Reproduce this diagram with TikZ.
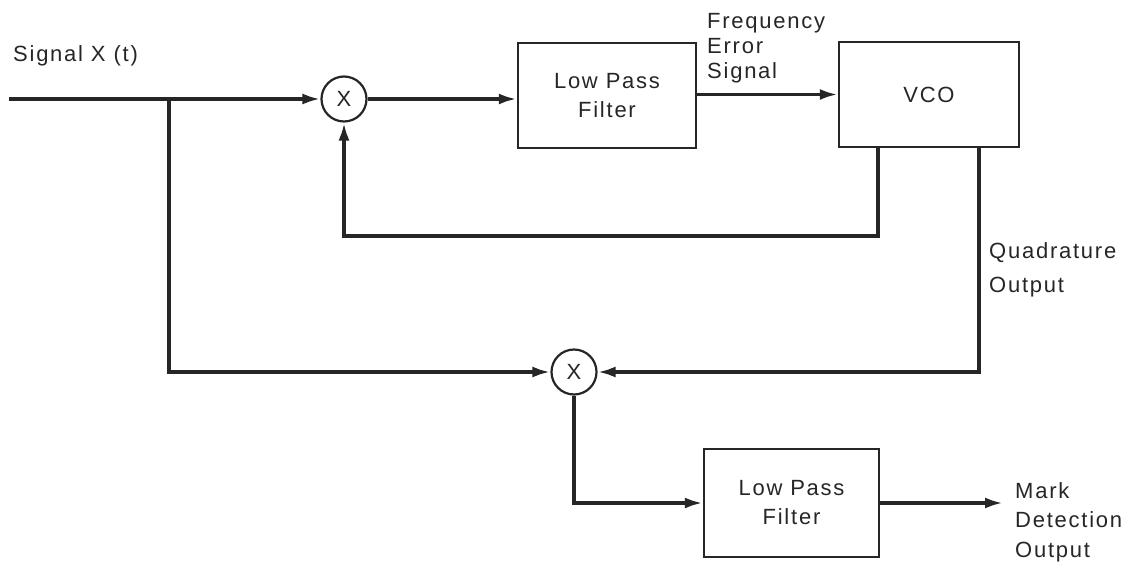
\documentclass[tikz,border=0pt]{standalone}
\usepackage{fontspec}
\setmainfont[LetterSpace=8]{Liberation Sans}
\usetikzlibrary{arrows.meta}
\begin{document}
\begin{tikzpicture}[x=1pt,y=-1pt,
  every node/.style={font=\fontsize{22}{29}\selectfont, text=black!85},
  wire/.style={line width=3.4pt, draw=black!85},
  arr/.style={wire,-{Latex[length=18pt,width=11pt]}},
  blk/.style={draw=black!85,line width=2.4pt,rectangle,inner sep=0pt,align=center},
  mix/.style={draw=black!85,circle,line width=2.2pt,minimum size=45pt,inner sep=0pt},
  lbl/.style={align=left,anchor=west,inner sep=0pt}]
\fill[white] (0,0) rectangle (1140,565);
\useasboundingbox (0,0) rectangle (1140,565);

% nodes
\node[lbl] (sig) at (13,56) {Signal X (t)};
\coordinate (in) at (9,99);
\coordinate (br) at (169,99);
\node[mix] (m1) at (344,99) {X};
\node[blk,minimum width=178pt,minimum height=105pt] (lpf1) at (607,95.5) {Low Pass\\Filter};
\node[blk,minimum width=180pt,minimum height=105pt] (vco) at (929,94.5) {VCO};
\node[lbl,font=\fontsize{22}{25}\selectfont] (fes) at (707,48) {Frequency\\Error\\Signal};
\coordinate (fbx) at (878,236);
\coordinate (qx) at (979,372);
\node[lbl,font=\fontsize{22}{34}\selectfont] (qlab) at (989,270) {Quadrature\\Output};
\node[mix] (m2) at (574,372) {X};
\node[blk,minimum width=175pt,minimum height=108pt] (lpf2) at (791.5,503) {Low Pass\\Filter};
\coordinate (out) at (1003,503);
\node[lbl,font=\fontsize{22}{29.5}\selectfont] (mark) at (1015,522) {Mark\\Detection\\Output};

% connectors
\draw[arr] (in) -- (m1.west);
\draw[arr] (m1.east) -- (lpf1.west |- m1);
\draw[arr] (lpf1.east |- vco) -- (vco.west);
\draw[arr] (vco.south -| fbx) -- (fbx) -| (m1.south);
\draw[arr] (vco.south -| qx) -- (qx) -- (m2.east);
\draw[arr] (br) |- (m2.west);
\draw[arr] (m2.south) |- (lpf2.west);
\draw[arr] (lpf2.east) -- (out);
\end{tikzpicture}
\end{document}
